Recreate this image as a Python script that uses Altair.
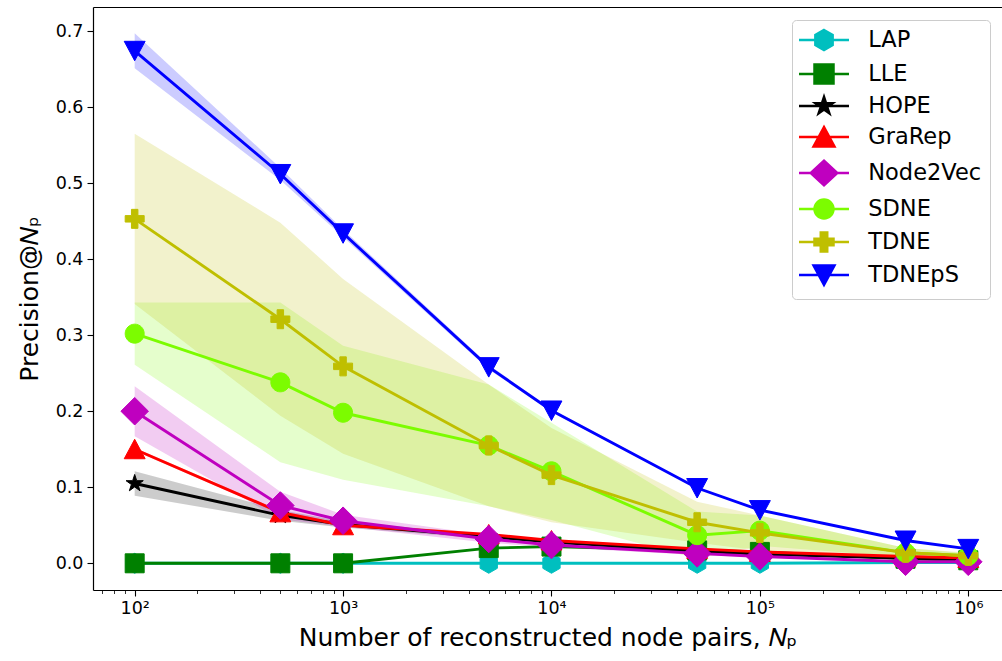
import altair as alt
import pandas as pd

# ---------------- data ----------------
methods = ["LAP", "LLE", "HOPE", "GraRep", "Node2Vec", "SDNE", "TDNE", "TDNEpS"]
n_pairs = [100, 500, 1000, 5000, 10000, 50000, 100000, 500000, 1000000]

mean_lap = [0.0, 0.0, 0.0, 0.0, 0.0, 0.0, 0.0, 0.001, 0.001]
std_lap = [0.0, 0.0, 0.0, 0.0, 0.0, 0.0, 0.0, 0.0, 0.0]

mean_lle = [0.0, 0.0, 0.0, 0.020, 0.022, 0.017, 0.015, 0.006, 0.004]
std_lle = [0.0, 0.0, 0.0, 0.001, 0.001, 0.001, 0.001, 0.0, 0.0]

mean_hope = [0.105, 0.063, 0.051, 0.035, 0.028, 0.016, 0.012, 0.007, 0.005]
std_hope = [0.016, 0.007, 0.004, 0.003, 0.002, 0.001, 0.001, 0.0, 0.0]

mean_grarep = [0.150, 0.067, 0.050, 0.038, 0.030, 0.019, 0.015, 0.009, 0.007]
std_grarep = [0.002, 0.002, 0.001, 0.001, 0.001, 0.001, 0.001, 0.0, 0.0]

mean_node2vec = [0.200, 0.076, 0.056, 0.032, 0.024, 0.013, 0.009, 0.002, 0.002]
std_node2vec = [0.033, 0.018, 0.008, 0.005, 0.003, 0.002, 0.001, 0.0, 0.0]

mean_sdne = [0.302, 0.238, 0.198, 0.155, 0.121, 0.037, 0.043, 0.014, 0.010]
std_sdne = [0.041, 0.105, 0.088, 0.080, 0.064, 0.031, 0.020, 0.006, 0.003]

mean_tdne = [0.453, 0.321, 0.259, 0.155, 0.116, 0.054, 0.040, 0.014, 0.010]
std_tdne = [0.112, 0.127, 0.115, 0.080, 0.062, 0.027, 0.023, 0.006, 0.004]

mean_tdneps = [0.674, 0.512, 0.434, 0.258, 0.201, 0.099, 0.070, 0.030, 0.019]
std_tdneps = [0.023, 0.008, 0.005, 0.003, 0.002, 0.001, 0.001, 0.0, 0.0]

means = [mean_lap, mean_lle, mean_hope, mean_grarep, mean_node2vec, mean_sdne, mean_tdne, mean_tdneps]
stds = [std_lap, std_lle, std_hope, std_grarep, std_node2vec, std_sdne, std_tdne, std_tdneps]

y_ticks = [0.0, 0.1, 0.2, 0.3, 0.4, 0.5, 0.6, 0.7]
x_major = [100, 1000, 10000, 100000, 1000000]
x_major_labels = ["10²", "10³", "10⁴", "10⁵", "10⁶"]

# ---------------- styles ----------------
colors = ["#00bfbf", "#008000", "#000000", "#ff0000", "#bf00bf", "#7cfc00", "#bfbf00", "#0000ff"]
markers = [
    "M0,-1.05L0.91,-0.525L0.91,0.525L0,1.05L-0.91,0.525L-0.91,-0.525Z",                 # hexagon
    "M-1,-1L1,-1L1,1L-1,1Z",                                                          # square
    "M0,-0.95L0.213,-0.294L0.904,-0.294L0.345,0.112L0.559,0.769L0,0.363L-0.559,0.769"
    "L-0.345,0.112L-0.904,-0.294L-0.213,-0.294Z",                                    # star
    "M0,-1.05L1.1,1L-1.1,1Z",                                                         # triangle up
    "M0,-1.45L1.45,0L0,1.45L-1.45,0Z",                                                # diamond
    "M-1,0A1,1,0,1,0,1,0A1,1,0,1,0,-1,0Z",                                            # circle
    "M-0.34,-1L0.34,-1L0.34,-0.34L1,-0.34L1,0.34L0.34,0.34L0.34,1L-0.34,1L-0.34,0.34"
    "L-1,0.34L-1,-0.34L-0.34,-0.34Z",                                                 # filled plus
    "M-1.1,-1L1.1,-1L0,1.05Z",                                                        # triangle down
]
legend_markers = list(markers)
legend_markers[4] = "M0,-1.3L1.4,0L0,1.3L-1.4,0Z"   # keep legend rows evenly spaced
legend_line = "M-2.63,0L2.63,0"
legend_shapes = [legend_line + m for m in legend_markers]

FONT = "DejaVu Sans"
WIDTH, HEIGHT = 909, 583
x_min = 10 ** 1.8
x_max = 10 ** (1.8 + WIDTH / 208.4)
y_min, y_max = -0.0351, 0.7316

# ---------------- table ----------------
rows = []
for k, m in enumerate(methods):
    for xv, mu, sd in zip(n_pairs, means[k], stds[k]):
        rows.append({"method": m, "order": k, "n": xv, "mean": mu,
                     "lo": mu - sd, "hi": mu + sd})
df = pd.DataFrame(rows)

x_minor = [mm * 10 ** e for e in range(1, 7) for mm in range(1, 10)
           if x_min <= mm * 10 ** e <= x_max]
label_expr = "".join(f"datum.value == {v} ? '{lab}' : " for v, lab in zip(x_major, x_major_labels)) + "''"
major_test = "indexof([" + ",".join(str(v) for v in x_major) + "], datum.value) >= 0"

x_scale = alt.Scale(type="log", domain=[x_min, x_max], nice=False)
y_scale = alt.Scale(domain=[y_min, y_max], nice=False, zero=False)

x_axis = alt.Axis(
    values=x_minor, labelExpr=label_expr, labelOverlap=False, labelFlush=False,
    tickSize={"condition": {"test": major_test, "value": 6}, "value": 3.5},
    tickWidth={"condition": {"test": major_test, "value": 1.1}, "value": 0.8},
    tickColor="black", domainColor="black", domainWidth=1.2, grid=False,
    labelFont=FONT, labelFontSize=17.5, labelColor="black", labelPadding=3,
    titleFont=FONT, titleFontSize=25, titleFontWeight="normal", titleColor="black",
    titlePadding=9,
)
y_axis = alt.Axis(
    values=y_ticks, format=".1f", tickSize=6, tickWidth=1.1, tickColor="black",
    domainColor="black", domainWidth=1.2, grid=False,
    labelFont=FONT, labelFontSize=17.5, labelColor="black", labelPadding=4,
    titleFont=FONT, titleFontSize=25, titleFontWeight="normal", titleColor="black",
    titlePadding=13,
)

X = alt.X("n:Q", scale=x_scale, axis=x_axis, title="Number of reconstructed node pairs, 𝑁ₚ")
Y = alt.Y("mean:Q", scale=y_scale, axis=y_axis, title="Precision@𝑁ₚ")

base = alt.Chart(df)

areas = []
lines = []
for k, m in enumerate(methods):
    sub = base.transform_filter(alt.datum.method == m)
    areas.append(
        sub.mark_area(color=colors[k], opacity=0.2).encode(
            x=X, y=alt.Y("lo:Q", scale=y_scale, axis=y_axis, title="Precision@𝑁ₚ"), y2="hi:Q"
        )
    )
    lines.append(sub.mark_line(color=colors[k], strokeWidth=2.9).encode(x=X, y=Y))
    lines.append(
        sub.mark_point(shape=markers[k], filled=True, fill=colors[k], stroke=colors[k],
                       strokeWidth=1, size=361, opacity=1).encode(x=X, y=Y)
    )

plot = alt.layer(*areas, *lines)

leg = alt.Legend(
    title=None, orient="none", legendX=699, legendY=13,
    labelFont=FONT, labelFontSize=22.5, labelColor="black",
    symbolSize=361, symbolStrokeWidth=2.5, symbolOffset=12, labelOffset=33,
    symbolOpacity=1,
    rowPadding=3, padding=8.75, strokeColor="#cccccc", fillColor="rgba(255,255,255,0.8)",
    cornerRadius=4,
)
legend_layer = base.transform_filter("false").mark_point(
    filled=True, strokeWidth=2.5, opacity=1
).encode(
    x=alt.X("n:Q", scale=x_scale,
            axis=alt.Axis(orient="top", labels=False, ticks=False, domain=True,
                          domainColor="black", domainWidth=1.2, grid=False, title=None)),
    y=Y,
    fill=alt.Fill("method:N", scale=alt.Scale(domain=methods, range=colors), legend=leg),
    stroke=alt.Stroke("method:N", scale=alt.Scale(domain=methods, range=colors), legend=leg),
    shape=alt.Shape("method:N", scale=alt.Scale(domain=methods, range=legend_shapes), legend=leg),
)

chart = (
    alt.layer(plot, legend_layer)
    .resolve_axis(x="independent")
    .properties(
        width=WIDTH, height=HEIGHT,
        autosize=alt.AutoSizeParams(type="none"),
        padding={"left": 93, "top": 7, "right": 0, "bottom": 71},
        background="white",
    )
    .configure(font=FONT)
    .configure_view(stroke=None)
)

chart.save("out.html", embed_options={"renderer": "svg", "actions": False})
